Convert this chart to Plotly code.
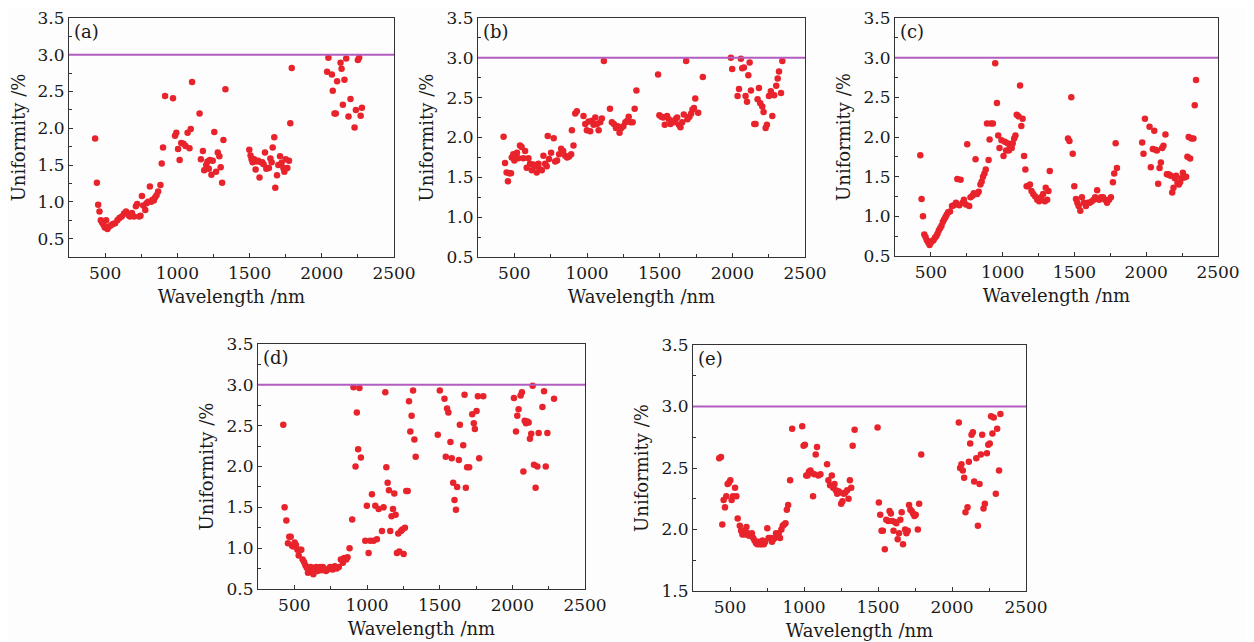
import plotly.graph_objects as go

# ---------------- data ----------------
a_wl = [431, 443, 452, 461, 470, 479, 489, 498, 507, 516, 525, 539, 553, 569, 585, 599, 615, 631, 645, 661,
        672, 686, 700, 713, 722, 736, 745, 755, 764, 778, 787, 798, 810, 819, 828, 837, 846, 856, 867, 883,
        892, 901, 915, 970, 984, 993, 1005, 1016, 1027, 1043, 1057, 1071, 1084, 1093, 1102, 1154, 1163, 1177,
        1186, 1200, 1209, 1218, 1225, 1236, 1245, 1256, 1268, 1280, 1291, 1300, 1310, 1319, 1333,
        1498, 1507, 1514, 1521, 1532, 1542, 1551, 1560, 1569, 1579, 1588, 1597, 1607, 1616, 1625, 1634, 1644,
        1653, 1660, 1671, 1678, 1690, 1699, 1711, 1722, 1734, 1741, 1750, 1762, 1773, 1782, 1792,
        2037, 2046, 2070, 2076, 2088, 2097, 2106, 2130, 2137, 2146, 2157, 2169, 2185, 2199, 2227, 2236, 2250,
        2259, 2269, 2278]
a_u = [1.86, 1.26, 0.96, 0.87, 0.75, 0.72, 0.69, 0.65, 0.75, 0.63, 0.66, 0.68, 0.70, 0.71, 0.75, 0.78, 0.80, 0.84, 0.87, 0.82,
       0.80, 0.85, 0.80, 0.94, 0.97, 0.80, 0.81, 1.08, 0.95, 0.89, 0.98, 1.00, 1.21, 1.00, 1.03, 1.02, 1.06, 1.09, 1.14, 1.23,
       1.52, 1.74, 2.44, 2.41, 1.90, 1.94, 1.72, 1.57, 1.80, 1.79, 1.76, 1.94, 1.73, 1.99, 2.63, 2.20, 1.58, 1.69,
       1.43, 1.50, 1.55, 1.45, 1.57, 1.37, 1.56, 1.95, 1.41, 1.67, 1.62, 1.47, 1.26, 1.84, 2.53,
       1.71, 1.63, 1.58, 1.54, 1.58, 1.44, 1.55, 1.56, 1.33, 1.54, 1.54, 1.51, 1.67, 1.45, 1.46, 1.46, 1.59,
       1.54, 1.74, 1.88, 1.19, 1.36, 1.50, 1.62, 1.53, 1.46, 1.41, 1.58, 1.46, 1.56, 2.07, 2.82,
       2.77, 2.96, 2.73, 2.51, 2.20, 2.20, 2.64, 2.89, 2.81, 2.32, 2.66, 2.95, 2.16, 2.40, 2.01, 2.25, 2.93,
       2.96, 2.17, 2.28]

b_wl = [426, 436, 447, 456, 465, 477, 482, 493, 500, 509, 518, 528, 539, 550, 562, 574, 585, 597, 608, 620,
        631, 643, 654, 666, 677, 689, 700, 712, 723, 730, 739, 753, 771, 781, 794, 808, 822, 836, 850, 863,
        877, 891, 896, 907, 919, 930, 976, 988, 999, 1011, 1022, 1034, 1045, 1057, 1068, 1080, 1091, 1102,
        1116, 1158, 1171, 1185, 1199, 1212, 1224, 1236, 1250, 1264, 1277, 1287, 1300, 1314, 1328, 1340,
        1489, 1498, 1512, 1524, 1535, 1551, 1563, 1574, 1585, 1599, 1609, 1620, 1632, 1643, 1655, 1666,
        1682, 1691, 1705, 1717, 1726, 1736, 1745, 1765, 1797,
        1990, 1999, 2036, 2046, 2059, 2068, 2080, 2091, 2101, 2110, 2119, 2128, 2151, 2160, 2174, 2183,
        2192, 2206, 2215, 2229, 2238, 2252, 2265, 2275, 2288, 2302, 2312, 2321, 2335, 2344]
b_u = [2.01, 1.68, 1.56, 1.45, 1.55, 1.55, 1.75, 1.79, 1.71, 1.77, 1.81, 1.74, 1.90, 1.88, 1.74, 1.83, 1.62, 1.74, 1.67, 1.59,
       1.66, 1.64, 1.56, 1.67, 1.60, 1.59, 1.77, 1.67, 1.64, 2.02, 1.73, 1.81, 1.99, 1.70, 1.71, 1.79, 1.86, 1.83, 1.77, 1.75,
       1.76, 1.79, 2.09, 1.90, 2.30, 2.33, 2.27, 2.17, 2.09, 2.20, 2.08, 2.21, 2.16, 2.25, 2.17, 2.09, 2.19, 2.24,
       2.96, 2.36, 2.19, 2.17, 2.12, 2.14, 2.06, 2.12, 2.14, 2.19, 2.21, 2.26, 2.19, 2.19, 2.36, 2.59,
       2.79, 2.28, 2.26, 2.25, 2.16, 2.27, 2.23, 2.17, 2.20, 2.19, 2.23, 2.25, 2.16, 2.13, 2.19, 2.29,
       2.96, 2.23, 2.26, 2.30, 2.35, 2.37, 2.49, 2.31, 2.76,
       3.00, 2.86, 2.52, 2.61, 2.99, 2.87, 2.88, 2.52, 2.45, 2.78, 2.94, 2.59, 2.17, 2.17, 2.48, 2.62,
       2.43, 2.39, 2.32, 2.12, 2.16, 2.52, 2.58, 2.27, 2.53, 2.65, 2.74, 2.83, 2.56, 2.96]

c_wl = [426, 435, 445, 454, 463, 472, 482, 491, 500, 509, 518, 528, 537, 546, 555, 564, 574, 583, 592, 601,
        610, 620, 633, 647, 661, 675, 684, 698, 707, 721, 730, 744, 753, 767, 776, 790, 799, 811, 822, 833,
        845, 854, 863, 873, 882, 891, 902, 909, 919, 932, 948, 960, 969, 978, 992, 1006, 1015, 1024, 1034,
        1043, 1052, 1063, 1070, 1080, 1089, 1098, 1110, 1121, 1130, 1139, 1149, 1158, 1167, 1178, 1190,
        1201, 1213, 1227, 1241, 1254, 1268, 1282, 1294, 1300, 1310, 1319, 1328,
        1455, 1465, 1478, 1488, 1499, 1511, 1520, 1529, 1541, 1552, 1566, 1580, 1593, 1607, 1621, 1635,
        1644, 1658, 1672, 1685, 1699, 1713, 1727, 1741, 1754, 1768, 1777, 1787, 1796,
        1972, 1981, 1991, 2023, 2032, 2046, 2056, 2065, 2074, 2083, 2093, 2102, 2111, 2120, 2134, 2144,
        2153, 2162, 2171, 2181, 2190, 2199, 2208, 2218, 2227, 2236, 2245, 2255, 2266, 2278, 2287, 2296,
        2306, 2315, 2329, 2338, 2347]
c_u = [1.77, 1.22, 1.00, 0.77, 0.74, 0.70, 0.67, 0.64, 0.67, 0.69, 0.70, 0.73, 0.75, 0.78, 0.82, 0.85, 0.88, 0.93, 0.96, 0.99,
       1.02, 1.05, 1.06, 1.13, 1.14, 1.17, 1.47, 1.14, 1.46, 1.17, 1.21, 1.15, 1.91, 1.13, 1.24, 1.26, 1.29, 1.72, 1.28, 1.31,
       1.40, 1.44, 1.50, 1.54, 1.59, 2.17, 1.71, 1.97, 2.17, 2.17, 2.93, 2.43, 2.02, 1.86, 1.96, 1.76, 1.94, 1.83, 1.92,
       1.83, 1.88, 1.86, 1.92, 1.98, 2.02, 2.28, 2.26, 2.65, 2.14, 2.23, 1.76, 1.59, 1.38, 1.38, 1.40,
       1.32, 1.28, 1.25, 1.21, 1.19, 1.24, 1.28, 1.19, 1.36, 1.21, 1.32, 1.57,
       1.98, 1.95, 2.50, 1.79, 1.38, 1.22, 1.17, 1.13, 1.07, 1.24, 1.17, 1.13, 1.17, 1.17, 1.19, 1.21,
       1.24, 1.33, 1.21, 1.24, 1.24, 1.21, 1.17, 1.21, 1.24, 1.43, 1.54, 1.92, 1.61,
       1.93, 1.79, 2.23, 2.13, 1.62, 1.85, 2.08, 1.84, 1.83, 1.41, 1.61, 1.68, 1.86, 1.89, 2.03, 1.53,
       1.53, 1.52, 1.51, 1.30, 1.36, 1.48, 1.51, 1.42, 1.40, 1.43, 1.48, 1.55, 1.49, 1.50, 1.75, 2.00,
       1.73, 1.98, 1.98, 2.40, 2.72]

d_wl = [424, 433, 445, 456, 465, 475, 484, 493, 502, 511, 521, 530, 539, 548, 557, 567, 576, 585, 594, 603,
        613, 622, 631, 640, 649, 659, 668, 677, 686, 696, 705, 718, 732, 746, 764, 778, 792, 806, 820, 834,
        843, 857, 866, 880, 898, 907, 921, 930, 939, 948, 958, 988, 999, 1011, 1022, 1034, 1045, 1057, 1068,
        1080, 1103, 1114, 1126, 1133, 1142, 1151, 1160, 1169, 1179, 1188, 1197, 1206, 1215, 1222, 1234, 1243,
        1252, 1261, 1270, 1280, 1289, 1298, 1307, 1317, 1326, 1335,
        1487, 1501, 1533, 1542, 1551, 1560, 1574, 1583, 1593, 1602, 1612, 1620, 1632, 1639, 1662, 1671, 1680,
        1689, 1703, 1724, 1735, 1742, 1754, 1763, 1772, 1800,
        2011, 2025, 2034, 2043, 2057, 2066, 2076, 2085, 2094, 2103, 2112, 2121, 2130, 2140, 2149, 2160, 2172,
        2181, 2207, 2218, 2230, 2241, 2287]
d_u = [2.51, 1.50, 1.34, 1.06, 1.14, 1.14, 1.03, 1.02, 1.07, 1.04, 0.98, 0.91, 0.98, 0.98, 0.86, 0.83, 0.79, 0.76, 0.70, 0.75,
       0.77, 0.72, 0.68, 0.75, 0.77, 0.72, 0.75, 0.77, 0.73, 0.77, 0.75, 0.72, 0.74, 0.77, 0.74, 0.78, 0.75, 0.77, 0.86, 0.82,
       0.88, 0.86, 0.89, 1.00, 1.35, 2.97, 2.00, 2.66, 2.21, 2.96, 2.11, 1.09, 1.52, 0.94, 1.09, 1.66, 1.09, 1.52, 1.11,
       1.48, 1.21, 1.50, 2.91, 1.99, 1.80, 1.71, 1.21, 1.39, 1.48, 1.67, 1.41, 0.94, 1.18, 0.96, 1.21, 1.23,
       0.93, 1.25, 1.70, 1.70, 2.80, 2.43, 2.62, 2.93, 2.33, 2.12,
       2.39, 2.93, 2.83, 2.12, 2.71, 2.66, 2.30, 2.10, 1.80, 1.59, 1.47, 1.75, 2.08, 2.51, 2.26, 2.88, 1.74,
       1.99, 1.99, 2.64, 2.53, 2.46, 2.68, 2.86, 2.10, 2.86,
       2.84, 2.43, 2.62, 2.70, 2.87, 2.91, 1.94, 2.56, 2.53, 2.55, 2.54, 2.34, 2.40, 2.99, 2.02, 1.74, 2.00,
       2.41, 2.73, 2.92, 2.00, 2.41, 2.83]

e_wl = [427, 439, 448, 457, 466, 475, 484, 493, 502, 511, 520, 534, 543, 552, 566, 575, 584, 593, 602, 611,
        620, 629, 638, 648, 657, 666, 675, 684, 693, 702, 711, 720, 729, 738, 752, 761, 775, 784, 793, 802,
        811, 820, 829, 838, 847, 856, 866, 875, 884, 893, 906, 920, 988, 997, 1006, 1015, 1024, 1033, 1043,
        1052, 1061, 1070, 1079, 1088, 1097, 1111, 1156, 1165, 1176, 1188, 1197, 1206, 1215, 1224, 1233, 1242,
        1251, 1260, 1269, 1279, 1292, 1301, 1310, 1319, 1329, 1342,
        1497, 1506, 1515, 1524, 1533, 1546, 1556, 1569, 1578, 1587, 1596, 1605, 1615, 1624, 1633, 1642, 1651,
        1660, 1669, 1683, 1692, 1701, 1710, 1719, 1728, 1737, 1746, 1755, 1769, 1778, 1792,
        2046, 2055, 2064, 2073, 2082, 2091, 2105, 2114, 2123, 2132, 2141, 2150, 2164, 2175, 2186, 2195, 2204,
        2213, 2222, 2236, 2245, 2255, 2264, 2273, 2282, 2296, 2305, 2318, 2327]
e_u = [2.58, 2.59, 2.04, 2.24, 2.18, 2.27, 2.37, 2.38, 2.40, 2.24, 2.27, 2.34, 2.27, 2.09, 2.03, 1.99, 1.96, 1.99, 1.96, 2.02,
       1.97, 1.95, 1.96, 1.97, 1.93, 1.91, 1.89, 1.88, 1.90, 1.88, 1.88, 1.91, 1.88, 1.90, 2.01, 1.93, 1.93, 1.90, 1.92, 1.93,
       1.97, 1.96, 1.97, 1.93, 2.00, 2.03, 2.04, 2.05, 2.16, 2.20, 2.40, 2.82, 2.84, 2.68, 2.69, 2.44, 2.44, 2.47, 2.48,
       2.46, 2.27, 2.45, 2.61, 2.67, 2.44, 2.45, 2.53, 2.40, 2.36, 2.44, 2.34, 2.37, 2.32, 2.29, 2.31, 2.30,
       2.21, 2.23, 2.29, 2.30, 2.32, 2.25, 2.40, 2.34, 2.68, 2.81,
       2.83, 2.22, 2.12, 1.99, 1.99, 1.84, 2.08, 2.07, 2.15, 2.13, 2.07, 1.99, 2.06, 2.05, 1.92, 1.97, 2.08,
       2.14, 1.88, 2.00, 1.97, 1.99, 2.20, 2.16, 2.15, 2.13, 2.11, 2.12, 2.00, 2.21, 2.61,
       2.87, 2.50, 2.53, 2.48, 2.42, 2.14, 2.18, 2.55, 2.70, 2.77, 2.79, 2.39, 2.58, 2.03, 2.37, 2.61, 2.77,
       2.17, 2.21, 2.62, 2.69, 2.70, 2.92, 2.78, 2.91, 2.29, 2.82, 2.48, 2.94]

panel_labels = ["(a)", "(b)", "(c)", "(d)", "(e)"]
threshold = 3.0
x_range = [250, 2500]
y_ranges = [[0.25, 3.5], [0.5, 3.5], [0.5, 3.5], [0.5, 3.5], [1.5, 3.5]]
x_title = "Wavelength /nm"
y_title = "Uniformity /%"

# ---------------- layout geometry (page pixels -> paper) ----------------
W, H = 1254, 642
PAGE_OFFSET = 8  # the page places the figure 8 px in from the top-left corner
boxes_px = [  # left, right, top, bottom (page pixels)
    (69, 394, 18, 257),
    (478, 805, 18, 257),
    (895, 1218, 18, 256),
    (258, 585, 344, 589),
    (693, 1026, 345, 591),
]

FONT = "DejaVu Serif"
RED = "#e8232b"
PURPLE = "#b25dbf"
INK = "#1a1a1a"

series = [(a_wl, a_u), (b_wl, b_u), (c_wl, c_u), (d_wl, d_u), (e_wl, e_u)]

fig = go.Figure()
layout_axes = {}
annotations = []
shapes = []
for i, ((wl, u), box, yr, lab) in enumerate(zip(series, boxes_px, y_ranges, panel_labels)):
    n = i + 1
    xa = "x" if n == 1 else f"x{n}"
    ya = "y" if n == 1 else f"y{n}"
    xkey = "xaxis" if n == 1 else f"xaxis{n}"
    ykey = "yaxis" if n == 1 else f"yaxis{n}"
    l, r, t, b = [v - PAGE_OFFSET for v in box]
    fig.add_trace(go.Scatter(
        x=wl, y=u, mode="markers", xaxis=xa, yaxis=ya,
        marker=dict(color=RED, size=6.5, line=dict(width=0)),
        showlegend=False, cliponaxis=True))
    common = dict(showline=True, linecolor="#333333", linewidth=1.2, mirror=True,
                  ticks="inside", ticklen=4, tickcolor="#333333", tickwidth=1,
                  showgrid=False, zeroline=False, automargin=False,
                  ticklabeloverflow="allow",
                  tickfont=dict(family=FONT, size=17, color=INK),
                  title_font=dict(family=FONT, size=18, color=INK))
    layout_axes[xkey] = dict(
        domain=[l / W, r / W], anchor=ya, range=x_range,
        tick0=500, dtick=500,
        minor=dict(ticks="inside", ticklen=3, dtick=250, tick0=250, tickcolor="#333333"),
        title=dict(text=x_title, standoff=8), **common)
    layout_axes[ykey] = dict(
        domain=[1 - b / H, 1 - t / H], anchor=xa, range=yr,
        tick0=0.5, dtick=0.5, tickformat=".1f",
        minor=dict(ticks="inside", ticklen=3, dtick=0.25, tick0=0.25, tickcolor="#333333"),
        title=dict(text=y_title, standoff=8), **common)
    shapes.append(dict(type="line", xref=f"{xa} domain", yref=ya, x0=0, x1=1,
                       y0=threshold, y1=threshold, line=dict(color=PURPLE, width=2)))
    annotations.append(dict(text=lab, xref=f"{xa} domain", yref=f"{ya} domain",
                            x=0.01, y=0.995, xanchor="left", yanchor="top", showarrow=False,
                            font=dict(family=FONT, size=18, color=INK)))

fig.update_layout(
    width=W, height=H, margin=dict(l=0, r=0, t=0, b=0, autoexpand=False),
    paper_bgcolor="#fdfdfd", plot_bgcolor="#fdfdfd",
    shapes=shapes, annotations=annotations, **layout_axes)

fig.write_html("out.html")
